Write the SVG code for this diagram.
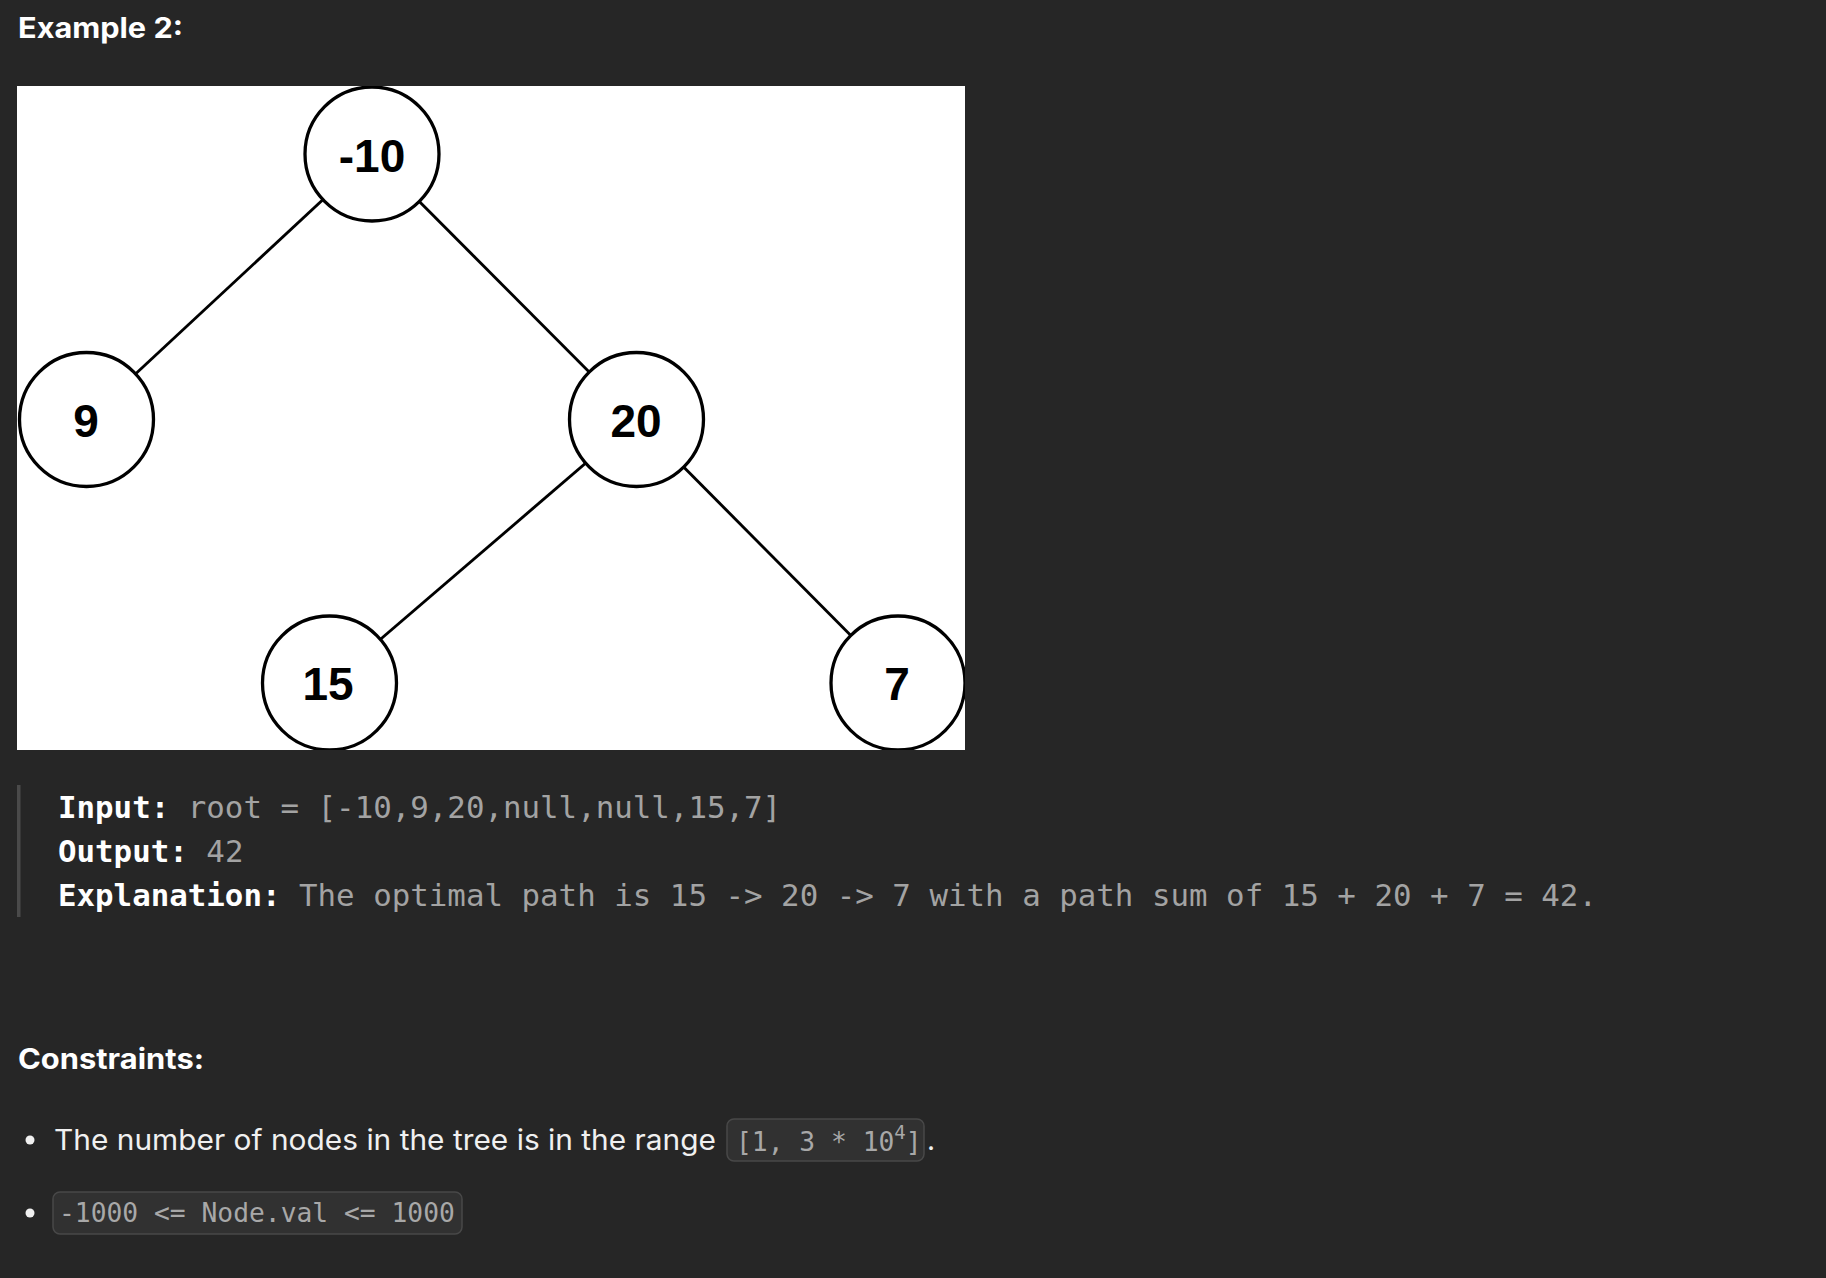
<svg xmlns="http://www.w3.org/2000/svg" width="1826" height="1278" viewBox="0 0 1826 1278">
  <style>
    .h { font-family: Inter, "Liberation Sans", sans-serif; font-weight: 700; font-size: 28px; fill: #ffffff; }
    .body { font-family: Inter, "Liberation Sans", sans-serif; font-size: 28px; fill: #f0f0f0; }
    .mono { font-family: "DejaVu Sans Mono", "Liberation Mono", monospace; font-size: 30.8px; fill: #a3a3a3; }
    .lbl { font-weight: 700; fill: #ffffff; }
    .code { font-family: "DejaVu Sans Mono", "Liberation Mono", monospace; font-size: 26.3px; fill: #a8a8a8; }
    .codebox { fill: #313131; stroke: #484848; stroke-width: 1.5; }
    .node circle { fill: #ffffff; stroke: #000000; stroke-width: 3.3; }
    .node text { font-family: "Liberation Sans", Arial, sans-serif; font-weight: 700; font-size: 46px; fill: #000000; text-anchor: middle; }
    .edge { stroke: #000000; stroke-width: 2.9; fill: none; }
  </style>
  <defs>
    <clipPath id="imgclip">
      <rect x="17" y="86" width="948" height="664"/>
    </clipPath>
  </defs>
  <rect x="0" y="0" width="1826" height="1278" fill="#262626"/>

  <text class="h" x="18" y="38" textLength="165" lengthAdjust="spacingAndGlyphs">Example 2:</text>

  <rect x="17" y="86" width="948" height="664" fill="#ffffff"/>
  <g clip-path="url(#imgclip)">
    <g id="connectors">
      <line class="edge" x1="372" y1="154" x2="86.5" y2="419.5"/>
      <line class="edge" x1="372" y1="154" x2="636.5" y2="419.5"/>
      <line class="edge" x1="636.5" y1="419.5" x2="329.5" y2="683"/>
      <line class="edge" x1="636.5" y1="419.5" x2="898" y2="683"/>
    </g>
    <g id="node-root" class="node">
      <circle cx="372" cy="154" r="67"/>
      <text x="372" y="172">-10</text>
    </g>
    <g id="node-9" class="node">
      <circle cx="86.5" cy="419.5" r="67"/>
      <text x="86" y="437">9</text>
    </g>
    <g id="node-20" class="node">
      <circle cx="636.5" cy="419.5" r="67"/>
      <text x="636" y="437">20</text>
    </g>
    <g id="node-15" class="node">
      <circle cx="329.5" cy="683" r="67"/>
      <text x="328" y="700">15</text>
    </g>
    <g id="node-7" class="node">
      <circle cx="898" cy="683" r="67"/>
      <text x="897" y="700">7</text>
    </g>
  </g>

  <rect x="17" y="785" width="3.5" height="132" fill="#4a4a4a"/>
  <text class="mono" x="58" y="818"><tspan class="lbl">Input:</tspan> root = [-10,9,20,null,null,15,7]</text>
  <text class="mono" x="58" y="862"><tspan class="lbl">Output:</tspan> 42</text>
  <text class="mono" x="58" y="906"><tspan class="lbl">Explanation:</tspan> The optimal path is 15 -&gt; 20 -&gt; 7 with a path sum of 15 + 20 + 7 = 42.</text>

  <text class="h" x="18" y="1069" textLength="186" lengthAdjust="spacingAndGlyphs">Constraints:</text>

  <circle cx="30" cy="1140" r="4.5" fill="#f0f0f0"/>
  <text class="body" x="54" y="1150" textLength="662" lengthAdjust="spacingAndGlyphs">The number of nodes in the tree is in the range</text>
  <rect class="codebox" x="727" y="1119" width="197" height="42" rx="7"/>
  <text class="code" x="736" y="1151">[1, 3 * 10<tspan font-size="19" dy="-12">4</tspan><tspan dy="12">]</tspan></text>
  <text class="body" x="927" y="1150">.</text>

  <circle cx="30" cy="1213" r="4.5" fill="#f0f0f0"/>
  <rect class="codebox" x="53" y="1192" width="409" height="42" rx="7"/>
  <text class="code" x="59" y="1222">-1000 &lt;= Node.val &lt;= 1000</text>
</svg>
